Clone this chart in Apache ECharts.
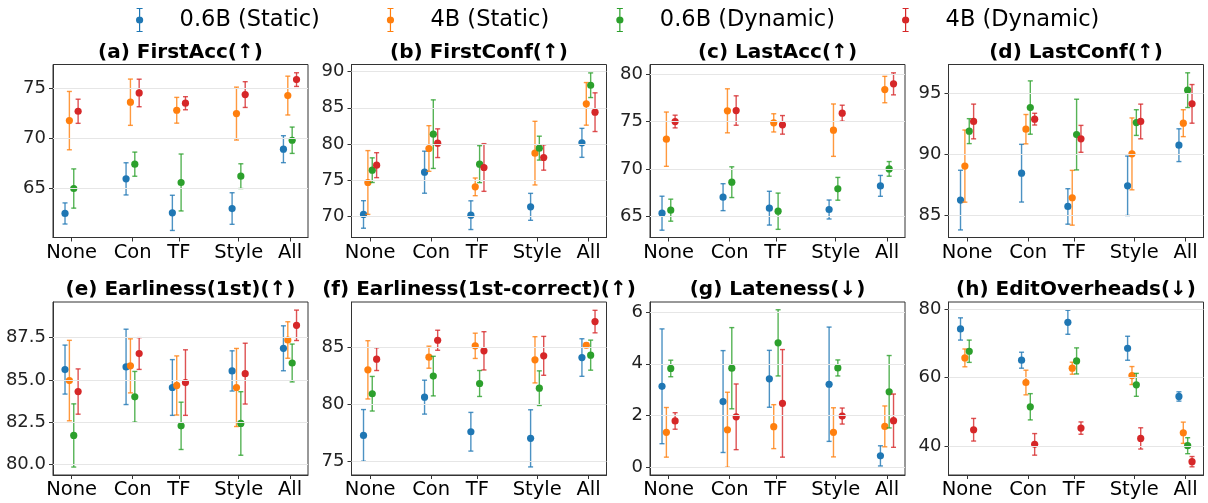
<!DOCTYPE html>
<html>
<head>
<meta charset="utf-8">
<script src="https://cdn.jsdelivr.net/npm/echarts@6/dist/echarts.min.js"></script>
<style>html,body{margin:0;padding:0;background:#fff}#chart{width:1208px;height:503px}</style>
</head>
<body>
<div id="chart"></div>
<script>
// ---------- DATA ----------
const categories = ['None', 'Con', 'TF', 'Style', 'All'];
const catPos = [0, 1.118, 1.966, 3.06, 4];
const seriesNames = ['0.6B (Static)', '4B (Static)', '0.6B (Dynamic)', '4B (Dynamic)'];
const panelTitles = ['(a) FirstAcc(↑)', '(b) FirstConf(↑)', '(c) LastAcc(↑)', '(d) LastConf(↑)',
  '(e) Earliness(1st)(↑)', '(f) Earliness(1st-correct)(↑)', '(g) Lateness(↓)', '(h) EditOverheads(↓)'];

// mean values [0.6B Static, 4B Static, 0.6B Dynamic, 4B Dynamic], each over categories
const firstAccMean = [[62.52, 65.96, 62.58, 63.01, 68.91], [71.75, 73.58, 72.78, 72.45, 74.24], [65.0, 67.42, 65.6, 66.23, 69.8], [72.68, 74.5, 73.48, 74.34, 75.83]];
const firstAccErr = [[1.05, 1.6, 1.75, 1.57, 1.34], [2.9, 2.3, 1.28, 2.63, 1.93], [1.95, 1.2, 2.83, 1.23, 1.31], [1.2, 1.37, 0.65, 1.28, 0.68]];
const firstConfMean = [[70.28, 76.11, 70.18, 71.33, 80.16], [74.69, 79.38, 74.09, 78.74, 85.54], [76.39, 81.36, 77.22, 79.43, 88.11], [77.08, 80.11, 76.76, 78.14, 84.39]];
const firstConfErr = [[1.9, 2.9, 1.98, 1.86, 2.0], [4.4, 3.15, 1.22, 4.39, 2.94], [1.7, 4.73, 2.55, 1.65, 1.7], [1.72, 1.98, 3.29, 1.75, 2.67]];
const lastAccMean = [[65.35, 67.04, 65.88, 65.74, 68.23], [73.15, 76.14, 74.87, 74.1, 78.38], [65.67, 68.62, 65.56, 67.92, 70.02], [75.01, 76.17, 74.66, 75.89, 78.98]];
const lastAccErr = [[1.79, 1.42, 1.78, 1.0, 1.1], [2.86, 2.32, 0.96, 2.76, 1.39], [1.16, 1.62, 1.91, 1.2, 0.77], [0.67, 1.55, 0.98, 0.84, 1.16]];
const lastConfMean = [[86.23, 88.43, 85.71, 87.4, 90.72], [89.01, 92.03, 86.42, 90.01, 92.52], [91.87, 93.8, 91.59, 92.57, 95.22], [92.66, 92.85, 91.24, 92.66, 94.1]];
const lastConfErr = [[2.44, 2.36, 1.45, 2.43, 1.34], [2.95, 1.2, 2.24, 2.94, 1.1], [1.02, 2.18, 2.89, 1.05, 1.42], [1.42, 0.48, 1.1, 1.42, 1.58]];
const early1stMean = [[85.61, 85.77, 84.55, 85.53, 86.87], [84.96, 85.83, 84.67, 84.55, 87.36], [81.71, 84.0, 82.28, 82.42, 86.0], [84.31, 86.56, 84.84, 85.37, 88.23]];
const early1stErr = [[1.45, 2.23, 1.65, 1.19, 1.33], [2.38, 1.6, 1.75, 2.31, 1.08], [1.87, 1.5, 1.4, 1.88, 1.12], [1.34, 0.94, 1.94, 1.8, 0.9]];
const earlyCorrMean = [[77.28, 80.64, 77.6, 77.02, 84.12], [83.04, 84.15, 85.15, 83.92, 85.2], [80.94, 82.49, 81.84, 81.43, 84.33], [83.98, 85.64, 84.71, 84.27, 87.28]];
const earlyCorrErr = [[2.27, 1.49, 1.7, 2.51, 1.65], [2.56, 0.97, 1.11, 2.03, 0.2], [1.52, 1.74, 1.14, 1.52, 1.32], [1.0, 0.88, 1.68, 1.71, 0.99]];
const latenessMean = [[3.13, 2.54, 3.42, 3.21, 0.44], [1.35, 1.45, 1.57, 1.35, 1.58], [3.82, 3.83, 4.81, 3.84, 2.92], [1.79, 1.95, 2.47, 1.98, 1.8]];
const latenessErr = [[2.22, 1.97, 1.1, 2.21, 0.39], [0.96, 1.45, 0.85, 0.95, 0.79], [0.32, 1.57, 1.28, 0.31, 1.4], [0.32, 1.27, 2.08, 0.31, 1.03]];
const editMean = [[74.17, 65.05, 76.12, 68.54, 54.47], [65.73, 58.54, 62.72, 60.58, 43.88], [67.67, 51.46, 64.85, 57.86, 40.1], [44.76, 40.49, 45.24, 42.23, 35.44]];
const editErr = [[3.25, 2.33, 3.5, 3.5, 1.36], [2.6, 3.6, 1.75, 2.62, 3.1], [3.25, 3.83, 3.8, 3.35, 2.33], [3.3, 3.15, 1.8, 3.1, 1.5]];

// y tick labels per panel
const yTicks = [[65, 70, 75], [70, 75, 80, 85, 90], [65, 70, 75, 80], [85, 90, 95],
  [80.0, 82.5, 85.0, 87.5], [75, 80, 85], [0, 2, 4, 6], [40, 60, 80]];
const yRanges = [[60.13, 77.33], [67.1, 90.97], [62.79, 81.02], [83.17, 97.32],
  [79.37, 89.61], [73.8, 89.0], [-0.3, 6.39], [31.55, 82.04]];

// ---------- LAYOUT / STYLE ----------
const panelMeans = [firstAccMean, firstConfMean, lastAccMean, lastConfMean, early1stMean, earlyCorrMean, latenessMean, editMean];
const panelErrs = [firstAccErr, firstConfErr, lastAccErr, lastConfErr, early1stErr, earlyCorrErr, latenessErr, editErr];
const colors = ['#1f77b4', '#ff7f0e', '#2ca02c', '#d62728'];
const offsets = [-0.12, -0.04, 0.04, 0.12];
const FONT = 'DejaVu Sans';
const gridLefts = [53, 351.5, 650, 948.5];
const gridTops = [64.5, 302];
const GW = 255, GH = 173;

function renderItem(params, api) {
  const x = api.value(0), y = api.value(1), e = api.value(2);
  const c = api.coord([x, y]);
  const t = api.coord([x, y + e]);
  const b = api.coord([x, y - e]);
  const color = api.visual('color');
  const cw = 2.5;
  const ls = { stroke: color, lineWidth: 1.4, opacity: 0.8 };
  return {
    type: 'group',
    children: [
      { type: 'line', shape: { x1: c[0], y1: t[1], x2: c[0], y2: b[1] }, style: ls },
      { type: 'line', shape: { x1: c[0] - cw, y1: t[1], x2: c[0] + cw, y2: t[1] }, style: ls },
      { type: 'line', shape: { x1: c[0] - cw, y1: b[1], x2: c[0] + cw, y2: b[1] }, style: ls },
      { type: 'circle', shape: { cx: c[0], cy: c[1], r: 3.6 }, style: { fill: color } }
    ]
  };
}

const grids = [], xAxes = [], yAxes = [], series = [], titles = [];
for (let p = 0; p < 8; p++) {
  const row = Math.floor(p / 4), col = p % 4;
  grids.push({ left: gridLefts[col], top: gridTops[row], width: GW, height: GH, show: true, borderColor: '#333', borderWidth: 1, containLabel: false });
  titles.push({
    text: panelTitles[p], left: gridLefts[col] + GW / 2, top: row === 0 ? 43 : 279.5, textAlign: 'center', padding: 0,
    textStyle: { fontFamily: FONT, fontSize: 20, fontWeight: 'bold', color: '#000' }
  });
  xAxes.push({
    type: 'value', gridIndex: p, min: -0.34, max: 4.33,
    axisLine: { show: true, onZero: false, lineStyle: { color: '#333' } },
    splitLine: { show: false },
    axisTick: { show: true, length: 4, customValues: catPos, lineStyle: { color: '#333' } },
    axisLabel: {
      customValues: catPos, margin: 5, fontFamily: FONT, fontSize: 19.5, color: '#000',
      formatter: v => { const i = catPos.findIndex(c => Math.abs(c - v) < 1e-6); return i >= 0 ? categories[i] : ''; }
    }
  });
  const dec = p === 4 ? 1 : 0;
  yAxes.push({
    type: 'value', gridIndex: p, min: yRanges[p][0], max: yRanges[p][1],
    axisLine: { show: true, onZero: false, lineStyle: { color: '#333' } },
    splitLine: { show: false },
    axisTick: { show: true, length: 4, customValues: yTicks[p], lineStyle: { color: '#333' } },
    axisLabel: { customValues: yTicks[p], margin: 7, fontFamily: FONT, fontSize: 18, color: '#222', formatter: v => v.toFixed(dec) }
  });
  // horizontal gridlines at tick values
  series.push({
    type: 'line', xAxisIndex: p, yAxisIndex: p, data: [], z: 1, silent: true, animation: false,
    markLine: {
      silent: true, symbol: 'none', animation: false, label: { show: false },
      lineStyle: { color: '#e6e6e6', width: 1, type: 'solid' },
      data: yTicks[p].map(v => ({ yAxis: v }))
    }
  });
  for (let s = 0; s < 4; s++) {
    const data = categories.map((c, i) => [catPos[i] + offsets[s], panelMeans[p][s][i], panelErrs[p][s][i]]);
    series.push({
      type: 'custom', name: seriesNames[s], xAxisIndex: p, yAxisIndex: p, z: 3,
      itemStyle: { color: colors[s] }, renderItem: renderItem, data: data, animation: false,
      encode: { x: 0, y: 1 }
    });
  }
}

const iconPath = 'path://M1,0H7V1H1Z M3.4,0H4.6V24H3.4Z M1,23H7V24H1Z M0.4,12A3.6,3.6 0 1 1 7.6,12A3.6,3.6 0 1 1 0.4,12Z';

const option = {
  animation: false,
  title: titles,
  legend: {
    top: 3, left: 131, itemWidth: 70, itemHeight: 24, itemGap: 67,
    padding: 5,
    data: seriesNames.map(n => ({ name: n, icon: iconPath })),
    textStyle: { fontFamily: FONT, fontSize: 22.5, color: '#000' },
    selectedMode: false
  },
  grid: grids, xAxis: xAxes, yAxis: yAxes, series: series
};

const chart = echarts.init(document.getElementById('chart'), null, { renderer: 'canvas' });
chart.setOption(option);
</script>
</body>
</html>
